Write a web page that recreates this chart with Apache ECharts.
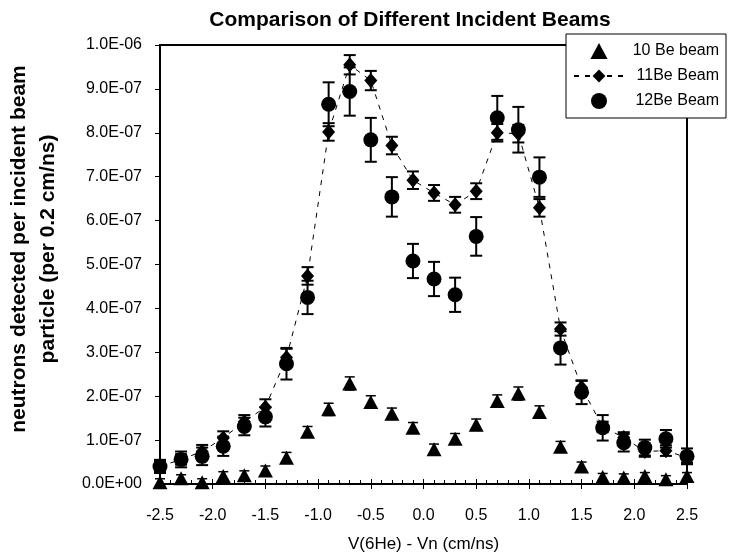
<!DOCTYPE html>
<html>
<head>
<meta charset="utf-8">
<script src="https://cdn.jsdelivr.net/npm/echarts@6/dist/echarts.min.js"></script>
<style>
html,body{margin:0;padding:0;background:#fff;}
#chart{width:733px;height:558px;}
</style>
</head>
<body>
<div id="chart"></div>
<script>
// x values (cm/ns)
const xValues = [-2.5,-2.3,-2.1,-1.9,-1.7,-1.5,-1.3,-1.1,-0.9,-0.7,-0.5,-0.3,-0.1,0.1,0.3,0.5,0.7,0.9,1.1,1.3,1.5,1.7,1.9,2.1,2.3,2.5];
// values in units of 1e-7
const be10 = [0.04,0.13,0.04,0.18,0.20,0.31,0.60,1.19,1.70,2.29,1.87,1.60,1.28,0.79,1.03,1.35,1.89,2.06,1.64,0.85,0.40,0.16,0.15,0.18,0.11,0.18];
const be10Err = [0.08,0.08,0.08,0.1,0.1,0.1,0.12,0.12,0.14,0.15,0.14,0.13,0.12,0.12,0.12,0.13,0.14,0.15,0.14,0.12,0.1,0.08,0.08,0.08,0.08,0.08];
const be11 = [0.40,0.56,0.74,1.05,1.42,1.75,2.88,4.74,8.02,9.55,9.19,7.71,6.92,6.63,6.36,6.67,8.00,7.98,6.29,3.53,2.20,1.30,1.06,0.74,0.76,0.60];
const be11Err = [0.12,0.12,0.15,0.15,0.15,0.18,0.2,0.2,0.2,0.22,0.22,0.2,0.2,0.18,0.18,0.18,0.2,0.2,0.2,0.15,0.15,0.12,0.12,0.12,0.12,0.12];
const be12 = [0.40,0.56,0.63,0.86,1.31,1.53,2.74,4.25,8.65,8.94,7.84,6.54,5.08,4.67,4.31,5.64,8.34,8.07,6.99,3.10,2.09,1.28,0.94,0.83,1.03,0.63];
const be12Err = [0.15,0.18,0.2,0.22,0.2,0.22,0.36,0.38,0.5,0.55,0.5,0.45,0.39,0.39,0.39,0.44,0.5,0.52,0.45,0.38,0.27,0.29,0.2,0.18,0.2,0.18];
const yScale = 1e-7;
const yTickLabels = ['0.0E+00','1.0E-07','2.0E-07','3.0E-07','4.0E-07','5.0E-07','6.0E-07','7.0E-07','8.0E-07','9.0E-07','1.0E-06'];
const seriesNames = ['10 Be beam','11Be Beam','12Be Beam'];
const titleText = 'Comparison of Different Incident Beams';
const xAxisName = 'V(6He) - Vn (cm/ns)';
const yAxisName = 'neutrons detected per incident beam\nparticle (per 0.2 cm/ns)';

const FONT = '"Liberation Sans", Arial, Helvetica, sans-serif';
const TRI = 'path://M7.5,0 L15,14 L0,14 Z';

function pts(vals){ return xValues.map((x,i)=>[x, vals[i]*yScale]); }
function errs(vals, e){ return xValues.map((x,i)=>[x, vals[i]*yScale, e[i]*yScale]); }

function errRender(cap, lw){
  return function(params, api){
    const x = api.value(0), y = api.value(1), e = api.value(2);
    const t = api.coord([x, y + e]);
    const b = api.coord([x, y - e]);
    const st = {stroke:'#000', lineWidth: lw, fill: null};
    return {type:'group', children:[
      {type:'line', shape:{x1:t[0], y1:t[1], x2:b[0], y2:b[1]}, style:st},
      {type:'line', shape:{x1:t[0]-cap/2, y1:t[1], x2:t[0]+cap/2, y2:t[1]}, style:st},
      {type:'line', shape:{x1:b[0]-cap/2, y1:b[1], x2:b[0]+cap/2, y2:b[1]}, style:st}
    ]};
  };
}

const chart = echarts.init(document.getElementById('chart'), null, {renderer:'canvas'});
chart.setOption({
  animation:false,
  backgroundColor:'#fff',
  textStyle:{fontFamily:FONT, color:'#000'},
  title:{
    text:titleText, left:405, top:5, textAlign:'center',
    textStyle:{fontFamily:FONT, fontSize:21, fontWeight:'bold', color:'#000'}
  },
  grid:{left:160, right:46, top:45, bottom:68, show:true, borderColor:'#000', borderWidth:2, backgroundColor:'transparent'},
  legend:{
    orient:'vertical', left:566, top:34,
    padding:[9,7,9,7], itemGap:9, itemWidth:50, itemHeight:16,
    symbolKeepAspect:true,
    backgroundColor:'#fff', borderColor:'#000', borderWidth:1,
    data:[{name:seriesNames[0], icon:TRI}, {name:seriesNames[1]}, {name:seriesNames[2]}],
    formatter: n => '{a|' + n + '}',
    textStyle:{fontFamily:FONT, fontSize:16, color:'#000',
      rich:{a:{width:90, align:'right', fontFamily:FONT, fontSize:16, color:'#000'}}}
  },
  graphic:[{
    type:'text', x:34, y:249, rotation:Math.PI/2,
    style:{text:yAxisName, font:'bold 21px ' + FONT, fill:'#000', align:'center', verticalAlign:'middle', lineHeight:29}
  }],
  xAxis:[{
    type:'value', min:-2.5, max:2.5, interval:0.5,
    name:xAxisName, nameLocation:'middle', nameGap:52,
    nameTextStyle:{fontFamily:FONT, fontSize:17, color:'#000'},
    axisLine:{show:true, onZero:false, lineStyle:{color:'#000', width:2}},
    axisTick:{show:true, inside:false, length:5, lineStyle:{color:'#000', width:1}},
    axisLabel:{fontFamily:FONT, fontSize:16, color:'#000', margin:24, formatter:v=>v.toFixed(1)},
    splitLine:{show:false}
  },{
    type:'value', min:-2.5, max:2.5, interval:0.5, position:'bottom', gridIndex:0,
    axisLine:{show:false, onZero:false}, axisLabel:{show:false},
    axisTick:{show:true, inside:true, length:5, lineStyle:{color:'#000', width:1}},
    minorTick:{show:true, splitNumber:5, length:4, lineStyle:{color:'#000', width:1}},
    splitLine:{show:false}
  }],
  yAxis:{
    type:'value', min:0, max:10*yScale, interval:yScale,
    axisLine:{show:true, onZero:false, lineStyle:{color:'#000', width:2}},
    axisTick:{show:true, inside:false, length:5, lineStyle:{color:'#000', width:1}},
    axisLabel:{fontFamily:FONT, fontSize:16, color:'#000', margin:18,
      formatter:v=>yTickLabels[Math.round(v/yScale)]},
    splitLine:{show:false}
  },
  series:[
    {name:'err10', type:'custom', renderItem:errRender(10,1.5), data:errs(be10,be10Err), encode:{x:0,y:1}, z:2, silent:true},
    {name:seriesNames[0], type:'scatter', data:pts(be10), symbol:'triangle', symbolSize:[15,14],
      itemStyle:{color:'#000', opacity:1}, z:3},
    {name:'err11', type:'custom', renderItem:errRender(12,2), data:errs(be11,be11Err), encode:{x:0,y:1}, z:4, silent:true},
    {name:seriesNames[1], type:'line', data:pts(be11), symbol:'diamond', symbolSize:[13,15], showSymbol:true,
      itemStyle:{color:'#000', opacity:1}, lineStyle:{color:'#000', width:1, type:[5,6]}, z:5},
    {name:'err12', type:'custom', renderItem:errRender(12,2), data:errs(be12,be12Err), encode:{x:0,y:1}, z:6, silent:true},
    {name:seriesNames[2], type:'scatter', data:pts(be12), symbol:'circle', symbolSize:15,
      itemStyle:{color:'#000', opacity:1}, z:7}
  ]
});
</script>
</body>
</html>
